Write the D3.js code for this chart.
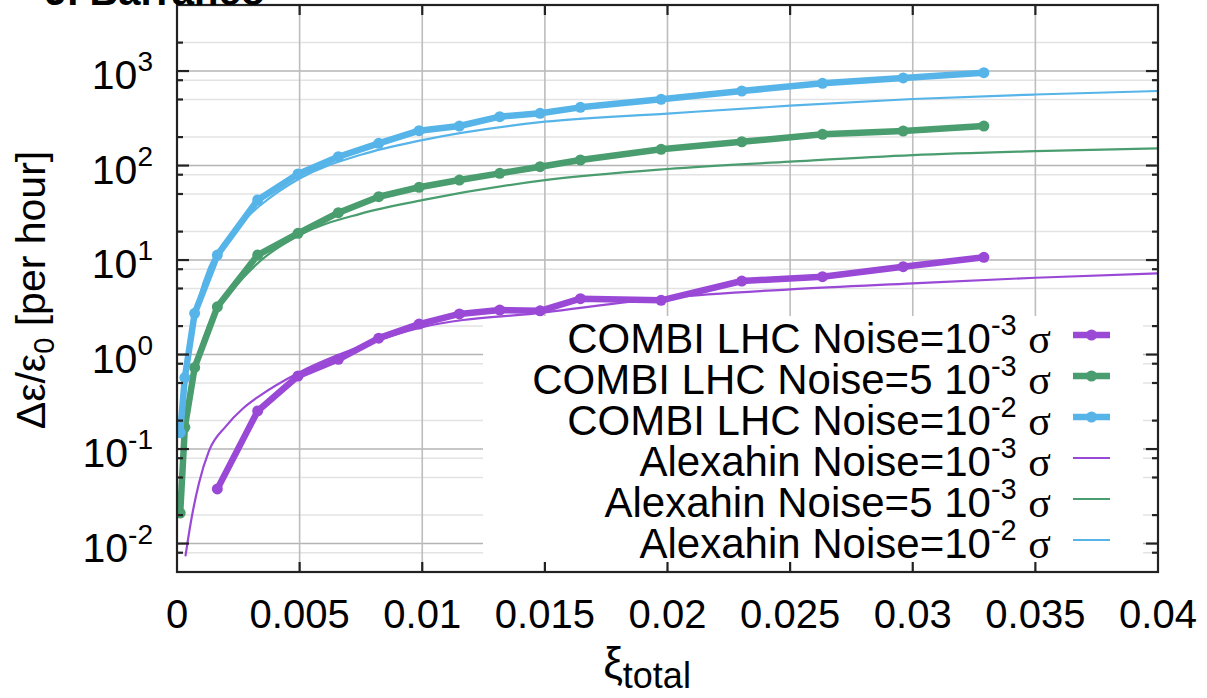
<!DOCTYPE html>
<html>
<head>
<meta charset="utf-8">
<script src="https://cdn.jsdelivr.net/npm/d3@7"></script>
<style>
  html, body { margin: 0; padding: 0; background: #fff; }
  svg { display: block; font-family: "Liberation Sans", Arial, sans-serif; }
</style>
</head>
<body>
<svg id="chart" width="1207" height="698"></svg>
<script>
// ---- data ----
// COMBI simulation points (shared xi positions)
const xiCombi = [0.00013, 0.00032, 0.00072, 0.001645, 0.00329, 0.004935, 0.00658, 0.008225,
                 0.00987, 0.011515, 0.01316, 0.014805, 0.01645, 0.01974, 0.02303, 0.02632, 0.02961, 0.0329];
const combiNoise1e3 = [null, null, null, 0.0378, 0.253, 0.593, 0.89, 1.49, 2.10, 2.69, 2.96, 2.9, 3.9, 3.75, 6.0, 6.67, 8.5, 10.7];
const combiNoise5e3 = [0.021, 0.17, 0.73, 3.2, 11.3, 19.2, 31.7, 46.8, 58.9, 70.3, 82.7, 97.3, 114.5, 148.6, 178.6, 214, 232, 262];
const combiNoise1e2 = [0.149, 0.57, 2.73, 11.3, 43.2, 81.5, 124, 172, 234, 262, 329, 357, 413, 502, 615, 742, 845, 961];

// Alexahin model curves (sampled)
const xiAlex = [0.00035, 0.00056, 0.0009, 0.0013, 0.002, 0.0027, 0.0034, 0.005, 0.0075,
                0.01, 0.015, 0.02, 0.025, 0.03, 0.035, 0.04];
const alexNoise1e3 = [0.0075, 0.0166, 0.044, 0.095, 0.175, 0.27, 0.37, 0.65, 1.22, 1.95, 2.8, 4.0, 4.9, 5.67, 6.5, 7.24];
const alexNoise5e3 = [0.19, 0.42, 1.05, 2.1, 4.0, 6.5, 9.8, 18.4, 31, 43, 70, 92, 110, 129, 142, 152];
const alexNoise1e2 = [0.75, 1.6, 4.0, 8.2, 16, 26, 38, 73, 130, 186, 291, 355, 430, 506, 565, 615];

const xTicks = [0, 0.005, 0.01, 0.015, 0.02, 0.025, 0.03, 0.035, 0.04];
const xTickLabels = ["0", "0.005", "0.01", "0.015", "0.02", "0.025", "0.03", "0.035", "0.04"];
const yExponents = [-2, -1, 0, 1, 2, 3];

const colors = { n1e3: "#9a48d6", n5e3: "#4a9d6e", n1e2: "#56b4e9" };

const series = [
  { kind: "combi", xs: xiCombi, ys: combiNoise1e3, color: colors.n1e3, pre: "COMBI LHC Noise=10", exp: "-3" },
  { kind: "combi", xs: xiCombi, ys: combiNoise5e3, color: colors.n5e3, pre: "COMBI LHC Noise=5 10", exp: "-3" },
  { kind: "combi", xs: xiCombi, ys: combiNoise1e2, color: colors.n1e2, pre: "COMBI LHC Noise=10", exp: "-2" },
  { kind: "alex", xs: xiAlex, ys: alexNoise1e3, color: colors.n1e3, pre: "Alexahin Noise=10", exp: "-3" },
  { kind: "alex", xs: xiAlex, ys: alexNoise5e3, color: colors.n5e3, pre: "Alexahin Noise=5 10", exp: "-3" },
  { kind: "alex", xs: xiAlex, ys: alexNoise1e2, color: colors.n1e2, pre: "Alexahin Noise=10", exp: "-2" }
];

// ---- layout ----
const svg = d3.select("#chart");
const pL = 177, pR = 1158, pT = 5, pB = 572;

const x = d3.scaleLinear().domain([0, 0.04]).range([pL, pR]);
const y = d3.scaleLog().domain([0.005, 5000]).range([pB, pT]);

const FS = 40;        // tick label font size
const SUP = 28;       // superscript size
const KFS = 42;       // key font size

// ---- grid ----
const grid = svg.append("g");
const majorY = yExponents.map(e => Math.pow(10, e));
const minorY = [];
[-3, -2, -1, 0, 1, 2, 3].forEach(e => [2, 5, 8].forEach(m => {
  const v = m * Math.pow(10, e);
  if (v > 0.0051 && v < 4999) minorY.push(v);
}));

grid.append("g").selectAll("line").data(minorY).join("line")
  .attr("x1", pL).attr("x2", pR)
  .attr("y1", d => y(d)).attr("y2", d => y(d))
  .attr("stroke", "#e3e3e3").attr("stroke-width", 1.5);
grid.append("g").selectAll("line").data(majorY).join("line")
  .attr("x1", pL).attr("x2", pR)
  .attr("y1", d => y(d)).attr("y2", d => y(d))
  .attr("stroke", "#b4b4b4").attr("stroke-width", 1.6);
grid.append("g").selectAll("line").data(xTicks.slice(1, -1)).join("line")
  .attr("x1", d => x(d)).attr("x2", d => x(d))
  .attr("y1", pT).attr("y2", pB)
  .attr("stroke", "#bdbdbd").attr("stroke-width", 1.6);

// ---- key box (opaque) ----
const key = { x0: 483, x1: 1143, y0: 316, y1: 569, base: 353, step: 41, textEnd: 1051, s0: 1073, s1: 1110 };
svg.append("rect")
  .attr("x", key.x0).attr("y", key.y0)
  .attr("width", key.x1 - key.x0).attr("height", key.y1 - key.y0)
  .attr("fill", "#fff");

series.forEach((s, i) => {
  const by = key.base + i * key.step;
  const t = svg.append("text")
    .attr("x", key.textEnd).attr("y", by)
    .attr("text-anchor", "end")
    .attr("font-size", KFS).attr("fill", "#000");
  t.append("tspan").text(s.pre);
  t.append("tspan").attr("font-size", 29).attr("dy", -18).text(s.exp);
  t.append("tspan").attr("dy", 18).text(" ");
  t.append("tspan").attr("font-family", "'Liberation Serif', 'DejaVu Serif', serif").text("σ");

  const sy = by - 18;
  svg.append("line")
    .attr("x1", key.s0).attr("x2", key.s1).attr("y1", sy).attr("y2", sy)
    .attr("stroke", s.color).attr("stroke-width", s.kind === "combi" ? 6.5 : 2.2)
    .attr("stroke-linecap", "butt");
  if (s.kind === "combi") {
    svg.append("circle").attr("cx", (key.s0 + key.s1) / 2).attr("cy", sy).attr("r", 5.5).attr("fill", s.color);
  }
});

// ---- data ----
svg.append("clipPath").attr("id", "plotclip")
  .append("rect").attr("x", pL).attr("y", pT).attr("width", pR - pL).attr("height", pB - pT);
const plot = svg.append("g").attr("clip-path", "url(#plotclip)");

series.forEach(s => {
  const pts = s.xs.map((v, i) => [v, s.ys[i]]).filter(p => p[1] != null);
  const line = d3.line()
    .x(p => x(p[0])).y(p => y(p[1]))
    .curve(s.kind === "alex" ? d3.curveMonotoneX : d3.curveLinear);
  plot.append("path").datum(pts)
    .attr("d", line)
    .attr("fill", "none")
    .attr("stroke", s.color)
    .attr("stroke-width", s.kind === "combi" ? 6.5 : 2.2)
    .attr("stroke-linejoin", "round")
    .attr("stroke-linecap", "round");
  if (s.kind === "combi") {
    plot.append("g").selectAll("circle").data(pts).join("circle")
      .attr("cx", p => x(p[0])).attr("cy", p => y(p[1])).attr("r", 5.5)
      .attr("fill", s.color);
  }
});

// ---- frame and ticks ----
const axes = svg.append("g").attr("stroke", "#222").attr("stroke-width", 2.2);
axes.append("rect").attr("x", pL).attr("y", pT)
  .attr("width", pR - pL).attr("height", pB - pT).attr("fill", "none");

xTicks.slice(1, -1).forEach(v => {
  axes.append("line").attr("x1", x(v)).attr("x2", x(v)).attr("y1", pB).attr("y2", pB - 10);
  axes.append("line").attr("x1", x(v)).attr("x2", x(v)).attr("y1", pT).attr("y2", pT + 10);
});
majorY.forEach(v => {
  axes.append("line").attr("x1", pL).attr("x2", pL + 12).attr("y1", y(v)).attr("y2", y(v));
  axes.append("line").attr("x1", pR).attr("x2", pR - 12).attr("y1", y(v)).attr("y2", y(v));
});
minorY.forEach(v => {
  axes.append("line").attr("x1", pL).attr("x2", pL + 6).attr("y1", y(v)).attr("y2", y(v));
  axes.append("line").attr("x1", pR).attr("x2", pR - 6).attr("y1", y(v)).attr("y2", y(v));
});

// ---- tick labels ----
svg.append("g").selectAll("text").data(xTicks).join("text")
  .attr("x", d => x(d)).attr("y", 628)
  .attr("text-anchor", "middle").attr("font-size", FS)
  .text((d, i) => xTickLabels[i]);

yExponents.forEach(e => {
  const t = svg.append("text")
    .attr("x", 153).attr("y", y(Math.pow(10, e)) + 18)
    .attr("text-anchor", "end").attr("font-size", 41);
  t.append("tspan").text("10");
  t.append("tspan").attr("font-size", SUP).attr("dy", -18).text(String(e));
});

// ---- axis titles ----
const yl = svg.append("text")
  .attr("transform", "translate(45,290) rotate(-90)")
  .attr("text-anchor", "middle").attr("font-size", 41);
yl.append("tspan").text("Δε/ε");
yl.append("tspan").attr("font-size", 29).attr("dy", 9).text("0");
yl.append("tspan").attr("dy", -9).text(" [per hour]");

const xl = svg.append("text")
  .attr("x", 647).attr("y", 678)
  .attr("text-anchor", "middle").attr("font-size", 44);
xl.append("tspan").text("ξ");
xl.append("tspan").attr("font-size", 36).attr("dy", 10).text("total");

// ---- author line at the top edge ----
svg.append("text")
  .attr("x", 45).attr("y", 5)
  .attr("font-size", 40).attr("font-weight", "bold")
  .text("J. Barranco");
</script>
</body>
</html>
